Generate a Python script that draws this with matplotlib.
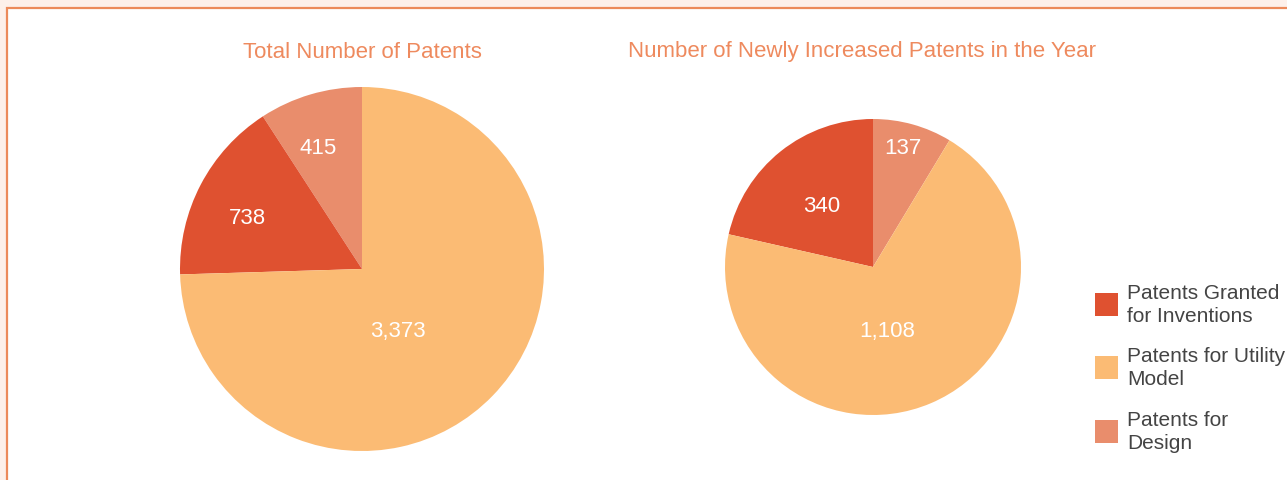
import matplotlib
matplotlib.use("Agg")
import matplotlib.pyplot as plt
from matplotlib.patches import Rectangle
import numpy as np

# Patent counts by type
categories = ["Patents Granted\nfor Inventions", "Patents for Utility\nModel", "Patents for\nDesign"]
total_patents = [738, 3373, 415]
new_patents = [340, 1108, 137]
titles = ["Total Number of Patents", "Number of Newly Increased Patents in the Year"]

colors = ["#DF5130", "#FBBB74", "#E98D6C"]
title_color = "#EE8A5E"
plt.rcParams["font.family"] = ["Liberation Sans", "DejaVu Sans"]

W, H = 1287, 481
fig = plt.figure(figsize=(W / 100, H / 100), dpi=100)
fig.patch.set_facecolor("#FDF0EA")

# white panel with an orange border running off the right/bottom edges
fig.add_artist(Rectangle((7 / W, -0.1), 1.2, (H - 9) / H + 0.1, transform=fig.transFigure,
                         facecolor="white", edgecolor="#EC8A5A", linewidth=1.6, zorder=-5))


def draw_pie(cx, cy, r, values, start, label_pos, title, title_x):
    ax = fig.add_axes([(cx - r) / W, (H - cy - r) / H, 2 * r / W, 2 * r / H])
    # draw order counterclockwise: design, inventions, utility
    order = [2, 0, 1]
    vals = [values[i] for i in order]
    ax.pie(vals, colors=[colors[i] for i in order], startangle=start, counterclock=True,
           radius=1.0, wedgeprops=dict(linewidth=0))
    ax.set_xlim(-1, 1)
    ax.set_ylim(-1, 1)
    ax.set_aspect("equal")
    ax.axis("off")
    for v, (ang, frac) in zip(values, label_pos):
        a = np.deg2rad(ang)
        ax.text(frac * np.cos(a), frac * np.sin(a), f"{v:,}", color="white",
                fontsize=16, ha="center", va="center")
    fig.text(title_x / W, 1 - 52 / H, title, color=title_color, fontsize=16,
             ha="center", va="center")


total1 = sum(total_patents)
draw_pie(362, 270, 182, total_patents, 90,
         [(155.7, 0.69), (300, 0.39), (110, 0.71)], titles[0], 362)
total2 = sum(new_patents)
draw_pie(873, 268, 148, new_patents, 90 - 360 * new_patents[2] / total2,
         [(130, 0.54), (283, 0.44), (76, 0.83)], titles[1], 862)

# legend
leg_y = [305, 368, 432]
for lab, col, y in zip(categories, colors, leg_y):
    fig.add_artist(Rectangle((1095 / W, 1 - (y + 12) / H), 23 / W, 23 / H,
                             transform=fig.transFigure, facecolor=col, edgecolor="none"))
    fig.text(1127 / W, 1 - y / H, lab, fontsize=15, color="#444444", ha="left",
             va="center", linespacing=1.3)

fig.savefig("out.png", dpi=100, facecolor=fig.get_facecolor())
